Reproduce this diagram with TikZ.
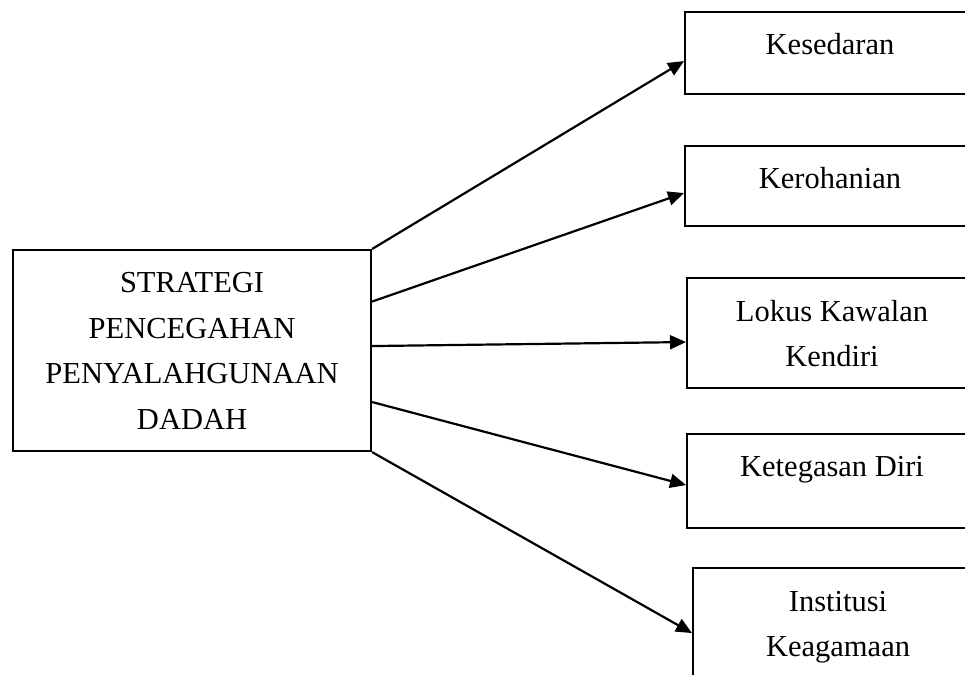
\documentclass[tikz,border=0pt]{standalone}
\usepackage{fontspec}
\setmainfont{Liberation Serif}
\usepackage{tikz}
\usetikzlibrary{arrows.meta}
\tikzset{box/.style={draw, line width=2.1pt, inner sep=0pt, align=flush center, anchor=north west, font=\fontsize{30.5}{45.5}\selectfont},
	arr/.style={line width=2.2pt, -{Triangle[length=16pt,width=14pt]}}}

\begin{document}
\begin{tikzpicture}[x=1pt, y=-1pt]
			\clip (0,0) rectangle (965,674);
			\node[box, text width=358pt, text height=42.7pt, text depth=158.3pt] (strat) at (12,249) {STRATEGI\\PENCEGAHAN\\PENYALAHGUNAAN\\DADAH};
			\node[box, text width=290pt, text height=42pt, text depth=40pt] (sedar) at (684,11) {Kesedaran};
			\node[box, text width=290pt, text height=42pt, text depth=38pt] (rohani) at (684,145) {Kerohanian};
			\node[box, text width=290pt, text height=43pt, text depth=67pt] (lokus) at (686,277) {Lokus Kawalan\\Kendiri};
			\node[box, text width=290pt, text height=42pt, text depth=52pt] (tegas) at (686,433) {Ketegasan Diri};
			\node[box, text width=290pt, text height=43pt, text depth=67pt] (agama) at (692,567) {Institusi\\Keagamaan};
			\draw[arr] (strat.north east) -- ([yshift=-8pt]sedar.west);
			\draw[arr] ([yshift=49pt]strat.east) -- ([yshift=-7pt]rohani.west);
			\draw[arr] ([yshift=4.5pt]strat.east) -- ([yshift=-9pt]lokus.west);
			\draw[arr] ([yshift=-51.5pt]strat.east) -- ([yshift=-4pt]tegas.west);
			\draw[arr] (strat.south east) -- ([yshift=-10pt]agama.west);
		\end{tikzpicture}
\end{document}
